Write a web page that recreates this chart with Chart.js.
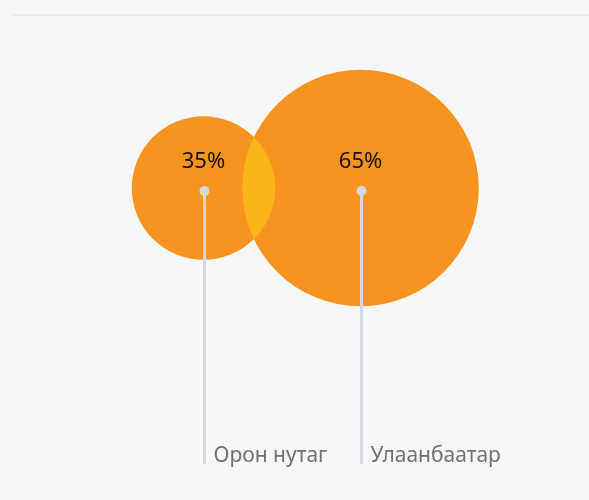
<!DOCTYPE html>
<html>
<head>
<meta charset="utf-8">
<script src="https://cdn.jsdelivr.net/npm/chart.js@4"></script>
<style>
  html, body { margin: 0; padding: 0; background: #f6f7f9; }
  .wrap { position: relative; width: 589px; height: 500px; }
  .topline { position: absolute; top: 14px; left: 13px; right: 0; height: 2px; background: #e8e9ee; }
  canvas { position: absolute; left: 0; top: 0; }
</style>
</head>
<body>
<div class="wrap">
  <div class="topline"></div>
  <canvas id="vennChart" width="589" height="500"></canvas>
</div>
<script>
const categories = ['Орон нутаг', 'Улаанбаатар']; // бүсүүд
const shares = [35, 65]; // хувь
const percentLabels = ['35%', '65%'];

const CIRCLE_COLOR = 'rgb(247, 148, 31)';
const OVERLAP_COLOR = 'rgb(251, 181, 25)';

// тойргийн радиусыг хувиас гаргана
function radiusOf(share) {
    return 17.5 + share * 1.55;
}

// огтлолцол, шошго, зураасыг зурах plugin
const vennPlugin = {
    id: 'vennExtras',
    afterDatasetsDraw(chart) {
        const ctx = chart.ctx;
        const pts = chart.getDatasetMeta(0).data;
        const area = chart.chartArea;

        // огтлолцсон хэсэг
        if (pts.length === 2) {
            ctx.save();
            ctx.beginPath();
            ctx.arc(pts[0].x, pts[0].y, pts[0].options.radius, 0, Math.PI * 2);
            ctx.clip();
            ctx.beginPath();
            ctx.arc(pts[1].x, pts[1].y, pts[1].options.radius, 0, Math.PI * 2);
            ctx.fillStyle = OVERLAP_COLOR;
            ctx.fill();
            ctx.restore();
        }

        pts.forEach((pt, i) => {
            const lineBottom = area.bottom - 36;
            const lx = Math.round(pt.x) + 0.5;
            ctx.save();
            // босоо зураас
            ctx.strokeStyle = '#d4d8e2';
            ctx.lineWidth = 3;
            ctx.beginPath();
            ctx.moveTo(lx, pt.y + 3);
            ctx.lineTo(lx, lineBottom);
            ctx.stroke();
            // цэг
            ctx.fillStyle = '#d4d8e2';
            ctx.beginPath();
            ctx.arc(lx, pt.y + 3, 5, 0, Math.PI * 2);
            ctx.fill();
            // хувь
            ctx.fillStyle = '#111111';
            ctx.font = '22px "Noto Sans"';
            ctx.textAlign = 'center';
            ctx.textBaseline = 'alphabetic';
            ctx.fillText(percentLabels[i], pt.x, pt.y - 20);
            // нэр
            ctx.fillStyle = '#707070';
            ctx.font = '21px "Noto Sans"';
            ctx.textAlign = 'left';
            ctx.fillText(categories[i], lx + 9, lineBottom - 2);
            ctx.restore();
        });
    }
};

new Chart(document.getElementById('vennChart'), {
    type: 'bubble',
    data: {
        labels: categories,
        datasets: [{
            data: shares.map((s, i) => ({ x: i, y: 0, r: radiusOf(s) })),
            backgroundColor: CIRCLE_COLOR,
            borderWidth: 0,
            hoverRadius: 0,
            hoverBorderWidth: 0,
            clip: false
        }]
    },
    options: {
        responsive: false,
        animation: false,
        events: [],
        layout: { padding: 0, autoPadding: false },
        scales: {
            x: { type: 'linear', display: false, min: -1.296, max: 2.455 },
            y: { type: 'linear', display: false, min: -1, max: 0.603 }
        },
        plugins: {
            legend: { display: false },
            tooltip: { enabled: false }
        }
    },
    plugins: [vennPlugin]
});
</script>
</body>
</html>
